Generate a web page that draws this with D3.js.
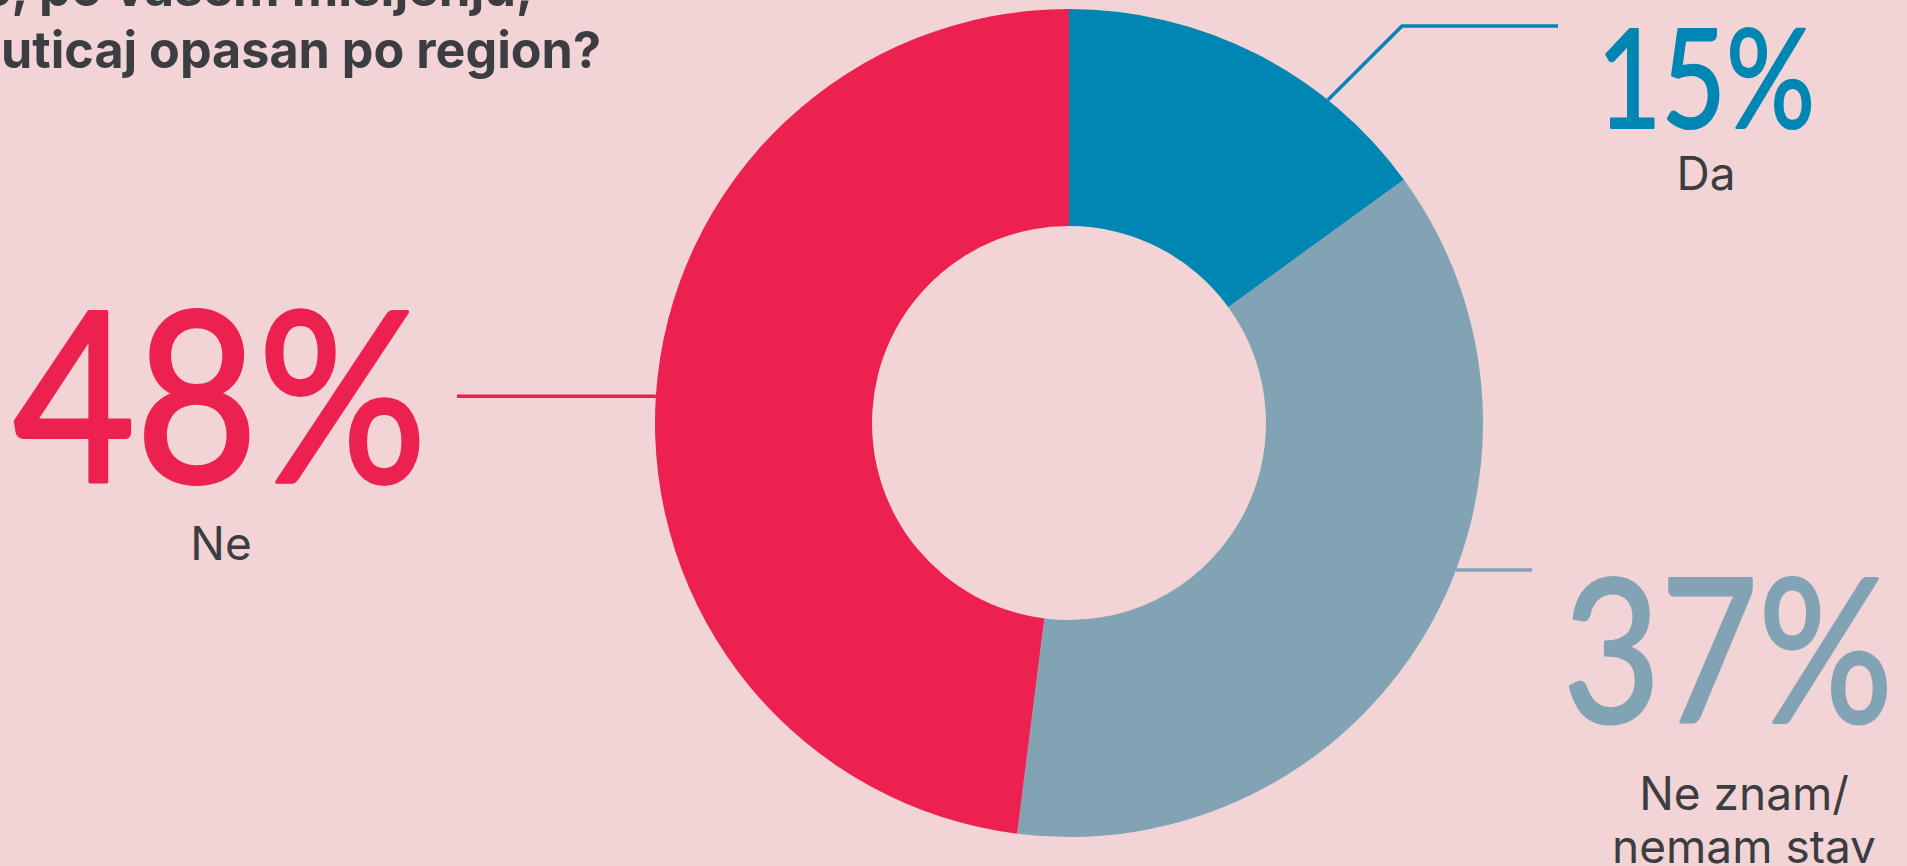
<!DOCTYPE html>
<meta charset="utf-8">

<script src="https://d3js.org/d3.v7.min.js"></script>

<style>
  body { margin: 0; background: #f2d4d6; overflow: hidden; }
  text { font-family: Inter, "Noto Sans", sans-serif; }
  .big { font-family: Lato, "Open Sans", sans-serif; }
</style>

<div id="donut"></div>

<script>

  // survey answers, clockwise from 12 o'clock
  const categories = ["Da", "Ne znam/ nemam stav", "Ne"];
  const values = [15, 37, 48];
  const labelLines = [["Da"], ["Ne znam/", "nemam stav"], ["Ne"]];
  const titleLines = ["Da li je, po vašem mišljenju,", "uticaj opasan po region?"];

  const width = 1907,
    height = 866;

  const cx = 1069,
    cy = 423,
    outerR = 414,
    innerR = 197;

  const color = d3.scaleOrdinal()
    .domain(categories)
    .range(["#0086b3", "#82a3b4", "#ec2150"]);

  const textColor = "#3b3d41";

  const svg = d3.select("#donut")
    .append("svg")
    .attr("width", width)
    .attr("height", height);

  svg.append("rect")
    .attr("width", width)
    .attr("height", height)
    .attr("fill", "#f2d4d6");

  // title, the top line is cut by the picture edge
  svg.append("text")
    .attr("x", 533)
    .attr("y", 6)
    .attr("text-anchor", "end")
    .attr("font-size", 51)
    .attr("font-weight", 700)
    .attr("fill", textColor)
    .text(titleLines[0]);

  svg.append("text")
    .attr("x", 1)
    .attr("y", 68)
    .attr("font-size", 51)
    .attr("font-weight", 700)
    .attr("fill", textColor)
    .attr("textLength", 600)
    .attr("lengthAdjust", "spacingAndGlyphs")
    .text(titleLines[1]);

  // the donut
  const pie = d3.pie()
    .sort(null)
    .value(function (d) { return d; });
  const data_ready = pie(values);

  const arcGen = d3.arc()
    .innerRadius(innerR)
    .outerRadius(outerR);

  const g = svg.append("g")
    .attr("transform", `translate(${cx}, ${cy})`);

  g.selectAll("path")
    .data(data_ready)
    .join("path")
    .attr("d", arcGen)
    .attr("fill", function (d, i) { return color(categories[i]) });

  // point on the outer rim, angle in degrees from 12 o'clock
  function rim(deg) {
    const a = deg * Math.PI / 180;
    return [cx + outerR * Math.sin(a), cy - outerR * Math.cos(a)];
  }

  // leader lines and labels per slice
  const labels = [
    { rimAngle: 38.7, path: [[1402, 26], [1558, 26]], x: 1597, y: 128, size: 138, len: 218, anchor: 1706, subY: 190 },
    { rimAngle: 110.8, path: [[1532, 570]], x: 1563, y: 722, size: 200, len: 330, anchor: 1744, subY: 810 },
    { rimAngle: 273.7, path: [[457, 396]], x: 13, y: 482, size: 236, len: 414, anchor: 221, subY: 560 }
  ];

  const line = d3.line();

  labels.forEach(function (l, i) {
    const c = color(categories[i]);
    const start = rim(l.rimAngle);
    const pts = [start].concat(l.path);
    if (l.path.length === 1) pts[1] = [l.path[0][0], start[1]];

    svg.append("path")
      .attr("d", line(pts))
      .attr("fill", "none")
      .attr("stroke", c)
      .attr("stroke-width", 3.5);

    // big percentage, a thin outline makes Lato a bit heavier
    svg.append("text")
      .attr("class", "big")
      .attr("x", l.x)
      .attr("y", l.y)
      .attr("font-size", l.size)
      .attr("font-weight", 400)
      .attr("fill", c)
      .attr("stroke", c)
      .attr("stroke-width", l.size * 0.016)
      .attr("stroke-linejoin", "round")
      .attr("textLength", l.len)
      .attr("lengthAdjust", "spacingAndGlyphs")
      .text(values[i] + "%");

    svg.append("text")
      .attr("x", l.anchor)
      .attr("y", l.subY)
      .attr("text-anchor", "middle")
      .attr("font-size", 46)
      .attr("fill", textColor)
      .selectAll("tspan")
      .data(labelLines[i])
      .join("tspan")
      .attr("x", l.anchor)
      .attr("dy", function (d, j) { return j === 0 ? 0 : 53 })
      .text(function (d) { return d });
  });
</script>
